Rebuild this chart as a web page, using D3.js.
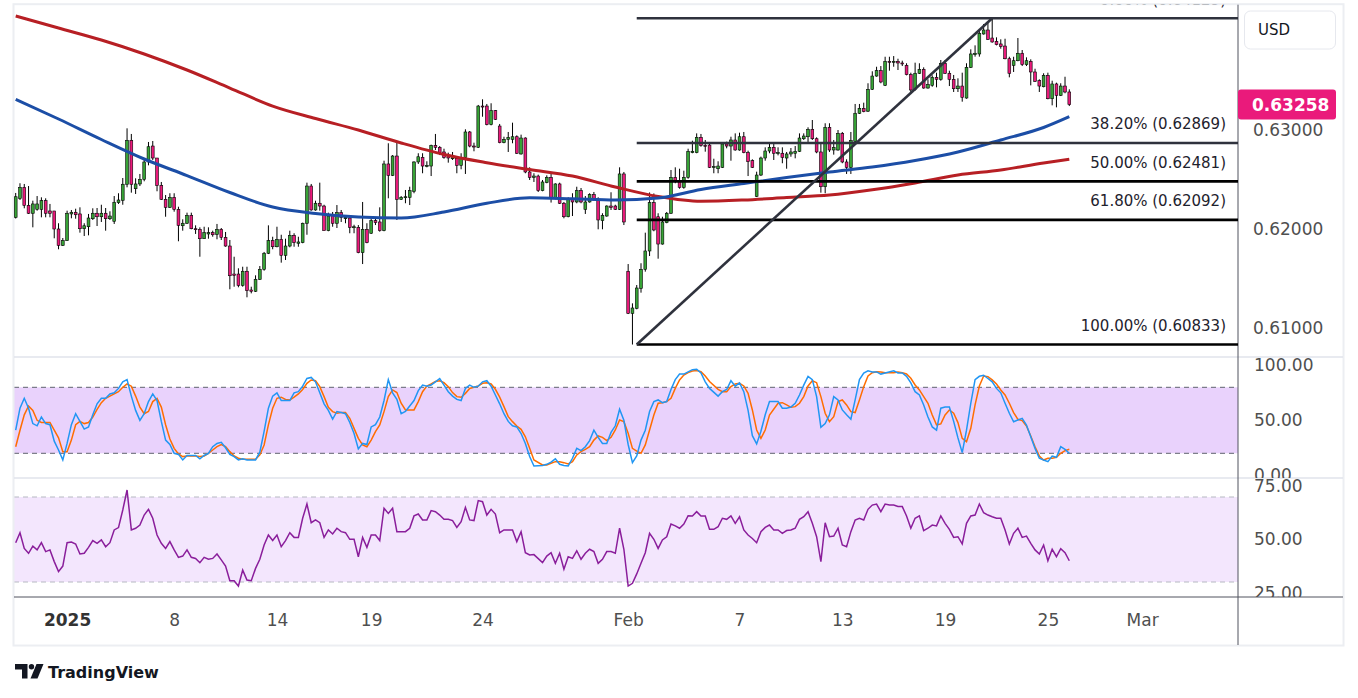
<!DOCTYPE html>
<html>
<head>
<meta charset="utf-8">
<script src="https://cdn.jsdelivr.net/npm/d3@7/dist/d3.min.js"></script>
<style>
  body { margin: 0; background: #fff; }
  svg { display: block; font-family: "DejaVu Sans", sans-serif; }
</style>
</head>
<body>
<svg id="chart" width="1358" height="698"></svg>
<script>
// 4H candles, 1 Jan - 25 Feb 2025
const opens = [
  0.62118,0.62310,0.62421,0.62239,0.62159,0.62199,0.62199,0.62286,0.62182,0.62182,
  0.62000,0.61835,0.61882,0.62152,0.62169,0.62152,0.62003,0.62023,0.62104,0.62159,
  0.62124,0.62159,0.62104,0.62078,0.62266,0.62290,0.62452,0.62896,0.62407,0.62455,
  0.62502,0.62677,0.62838,0.62717,0.62441,0.62300,0.62219,0.62320,0.62199,0.62033,
  0.62058,0.62138,0.62003,0.61997,0.61902,0.61950,0.61963,0.61946,0.61997,0.61916,
  0.61828,0.61545,0.61545,0.61431,0.61573,0.61384,0.61371,0.61492,0.61593,0.61755,
  0.61882,0.61821,0.61896,0.61734,0.61828,0.61936,0.61856,0.61862,0.62058,0.62434,
  0.62192,0.62260,0.62232,0.61983,0.62138,0.62058,0.62165,0.62104,0.62111,0.62017,
  0.62017,0.61761,0.61997,0.61957,0.62084,0.62071,0.61983,0.62657,0.62542,0.62737,
  0.62300,0.62320,0.62320,0.62381,0.62677,0.62724,0.62636,0.62636,0.62845,0.62825,
  0.62778,0.62730,0.62710,0.62714,0.62643,0.62724,0.62980,0.62838,0.62825,0.63242,
  0.63242,0.63054,0.63195,0.63040,0.62872,0.62906,0.62906,0.62932,0.62758,0.62919,
  0.62576,0.62522,0.62535,0.62387,0.62468,0.62522,0.62306,0.62455,0.62260,0.62124,
  0.62306,0.62273,0.62387,0.62199,0.62273,0.62347,0.62300,0.62084,0.62131,0.62232,
  0.62232,0.62199,0.62556,0.61573,0.61148,0.61199,0.61401,0.61593,0.61778,0.62266,
  0.62124,0.61848,0.62064,0.62159,0.62522,0.62482,0.62421,0.62522,0.62771,0.62771,
  0.62926,0.62845,0.62848,0.62623,0.62609,0.62623,0.62859,0.62838,0.62899,0.62798,
  0.62932,0.62771,0.62690,0.62330,0.62545,0.62717,0.62788,0.62825,0.62765,0.62765,
  0.62717,0.62758,0.62765,0.62785,0.62912,0.62932,0.63007,0.62912,0.62778,0.62427,
  0.63027,0.62798,0.62798,0.62966,0.62677,0.62623,0.62886,0.63169,0.63219,0.63190,
  0.63411,0.63545,0.63599,0.63451,0.63694,0.63687,0.63694,0.63677,0.63653,0.63559,
  0.63411,0.63573,0.63613,0.63424,0.63451,0.63532,0.63512,0.63674,0.63573,0.63512,
  0.63417,0.63444,0.63323,0.63633,0.63761,0.63768,0.63970,0.64010,0.63929,0.63896,
  0.63869,0.63848,0.63720,0.63653,0.63700,0.63775,0.63660,0.63694,0.63586,0.63498,
  0.63437,0.63552,0.63316,0.63465,0.63350,0.63444,0.63384
]
const highs = [
  0.62364,0.62462,0.62455,0.62434,0.62286,0.62333,0.62320,0.62310,0.62253,0.62182,
  0.62058,0.61909,0.62185,0.62192,0.62205,0.62219,0.62058,0.62152,0.62209,0.62212,
  0.62245,0.62212,0.62179,0.62333,0.62361,0.62515,0.63017,0.62960,0.62512,0.62556,
  0.62707,0.62879,0.62889,0.62717,0.62475,0.62343,0.62361,0.62361,0.62225,0.62098,
  0.62165,0.62165,0.62037,0.62017,0.62023,0.62017,0.61983,0.62051,0.62010,0.61970,
  0.61889,0.61720,0.61603,0.61619,0.61619,0.61417,0.61532,0.61626,0.61768,0.62037,
  0.61922,0.62023,0.61942,0.61902,0.61983,0.61957,0.61922,0.62064,0.62468,0.62455,
  0.62286,0.62468,0.62245,0.62165,0.62172,0.62242,0.62192,0.62138,0.62124,0.62043,
  0.62040,0.62273,0.62058,0.62104,0.62114,0.62219,0.62690,0.62866,0.62747,0.62882,
  0.62333,0.62394,0.62427,0.62684,0.62765,0.62765,0.62684,0.62852,0.62960,0.62838,
  0.62811,0.62771,0.62778,0.62737,0.62765,0.63007,0.62990,0.62872,0.63253,0.63310,
  0.63263,0.63270,0.63202,0.63061,0.62932,0.62980,0.63074,0.62946,0.62953,0.62926,
  0.62623,0.62563,0.62549,0.62495,0.62542,0.62563,0.62462,0.62468,0.62273,0.62320,
  0.62361,0.62427,0.62414,0.62333,0.62361,0.62374,0.62320,0.62159,0.62239,0.62371,
  0.62245,0.62623,0.62576,0.61646,0.61249,0.61434,0.61654,0.61963,0.62369,0.62359,
  0.62159,0.62124,0.62172,0.62596,0.62623,0.62609,0.62589,0.62811,0.62892,0.62966,
  0.62960,0.62899,0.62859,0.62710,0.62684,0.62872,0.62882,0.62932,0.62966,0.62973,
  0.62980,0.62791,0.62704,0.62579,0.62731,0.62825,0.62859,0.62866,0.62825,0.62825,
  0.62778,0.62818,0.62838,0.62966,0.62966,0.63027,0.63101,0.62926,0.62866,0.63068,
  0.63068,0.62899,0.63000,0.62980,0.62704,0.62980,0.63263,0.63263,0.63276,0.63472,
  0.63593,0.63639,0.63646,0.63740,0.63740,0.63747,0.63720,0.63700,0.63674,0.63579,
  0.63680,0.63674,0.63633,0.63512,0.63552,0.63579,0.63707,0.63707,0.63599,0.63556,
  0.63522,0.63579,0.63674,0.63815,0.63855,0.64003,0.64071,0.64091,0.64129,0.63936,
  0.63916,0.63922,0.63740,0.63740,0.63929,0.63808,0.63734,0.63714,0.63619,0.63512,
  0.63573,0.63579,0.63498,0.63478,0.63472,0.63538,0.63411
]
const lows = [
  0.62106,0.62293,0.62209,0.62152,0.62017,0.62185,0.62118,0.62118,0.62118,0.61906,
  0.61795,0.61828,0.61882,0.62108,0.62104,0.61963,0.61929,0.61936,0.62091,0.62030,
  0.62071,0.61983,0.62091,0.62051,0.62253,0.62245,0.62421,0.62367,0.62354,0.62434,
  0.62482,0.62643,0.62697,0.62381,0.62293,0.62124,0.62212,0.62175,0.61876,0.61983,
  0.62051,0.61997,0.61950,0.61720,0.61902,0.61902,0.61922,0.61896,0.61889,0.61821,
  0.61391,0.61417,0.61411,0.61417,0.61310,0.61350,0.61364,0.61485,0.61579,0.61747,
  0.61795,0.61815,0.61660,0.61687,0.61815,0.61821,0.61821,0.61856,0.61942,0.62185,
  0.62185,0.62185,0.62051,0.61977,0.62023,0.62010,0.62071,0.62058,0.61957,0.61957,
  0.61755,0.61646,0.61856,0.61950,0.62040,0.61973,0.61977,0.62310,0.62535,0.62091,
  0.62293,0.62260,0.62242,0.62361,0.62657,0.62563,0.62623,0.62535,0.62798,0.62747,
  0.62710,0.62670,0.62697,0.62563,0.62603,0.62556,0.62825,0.62785,0.62818,0.63134,
  0.63047,0.63047,0.63101,0.62866,0.62866,0.62778,0.62866,0.62758,0.62751,0.62563,
  0.62495,0.62475,0.62374,0.62381,0.62462,0.62267,0.62300,0.62253,0.62108,0.62118,
  0.62131,0.62260,0.62260,0.62152,0.62266,0.62286,0.61997,0.61997,0.62124,0.62192,
  0.62192,0.62192,0.62040,0.61141,0.60833,0.61189,0.61357,0.61569,0.61727,0.61977,
  0.61700,0.61842,0.62058,0.62152,0.62462,0.62407,0.62407,0.62508,0.62765,0.62765,
  0.62831,0.62781,0.62616,0.62563,0.62563,0.62616,0.62815,0.62690,0.62791,0.62791,
  0.62765,0.62535,0.62616,0.62323,0.62535,0.62690,0.62765,0.62697,0.62744,0.62664,
  0.62609,0.62730,0.62714,0.62778,0.62899,0.62879,0.62899,0.62765,0.62367,0.62361,
  0.62778,0.62751,0.62791,0.62664,0.62556,0.62556,0.62879,0.63162,0.63179,0.63182,
  0.63404,0.63538,0.63472,0.63444,0.63599,0.63639,0.63606,0.63646,0.63552,0.63371,
  0.63397,0.63566,0.63417,0.63417,0.63437,0.63431,0.63498,0.63566,0.63444,0.63384,
  0.63384,0.63286,0.63316,0.63626,0.63741,0.63741,0.63963,0.63909,0.63882,0.63855,
  0.63821,0.63714,0.63532,0.63586,0.63694,0.63646,0.63646,0.63451,0.63485,0.63384,
  0.63431,0.63310,0.63249,0.63229,0.63343,0.63371,0.63242
]
const closes = [
  0.62326,0.62421,0.62239,0.62159,0.62253,0.62253,0.62286,0.62159,0.62159,0.62000,
  0.61835,0.61882,0.62159,0.62169,0.62144,0.62003,0.62033,0.62111,0.62159,0.62124,
  0.62159,0.62104,0.62131,0.62270,0.62293,0.62452,0.62896,0.62452,0.62455,0.62502,
  0.62677,0.62831,0.62717,0.62441,0.62300,0.62219,0.62320,0.62199,0.62037,0.62058,
  0.62138,0.62003,0.61997,0.61902,0.61963,0.61963,0.61942,0.61997,0.61916,0.61828,
  0.61528,0.61532,0.61431,0.61573,0.61377,0.61371,0.61492,0.61593,0.61755,0.61882,
  0.61821,0.61896,0.61734,0.61828,0.61936,0.61862,0.61869,0.62058,0.62434,0.62192,
  0.62260,0.62232,0.61983,0.62131,0.62058,0.62165,0.62118,0.62118,0.62017,0.62023,
  0.61761,0.61997,0.61862,0.62084,0.62064,0.61983,0.62657,0.62542,0.62737,0.62300,
  0.62320,0.62326,0.62387,0.62677,0.62730,0.62636,0.62643,0.62845,0.62825,0.62771,
  0.62724,0.62717,0.62737,0.62643,0.62724,0.62980,0.62838,0.62831,0.63242,0.63235,
  0.63054,0.63195,0.63108,0.62872,0.62906,0.62926,0.62932,0.62765,0.62919,0.62576,
  0.62522,0.62535,0.62387,0.62475,0.62522,0.62306,0.62455,0.62260,0.62124,0.62306,
  0.62273,0.62387,0.62273,0.62273,0.62347,0.62300,0.62091,0.62138,0.62232,0.62219,
  0.62199,0.62556,0.62071,0.61148,0.61202,0.61404,0.61593,0.61778,0.62266,0.61990,
  0.61848,0.62071,0.62159,0.62522,0.62482,0.62421,0.62522,0.62785,0.62785,0.62926,
  0.62845,0.62838,0.62623,0.62630,0.62636,0.62859,0.62838,0.62899,0.62798,0.62932,
  0.62771,0.62680,0.62623,0.62545,0.62717,0.62788,0.62825,0.62765,0.62771,0.62724,
  0.62758,0.62778,0.62785,0.62919,0.62939,0.63007,0.62912,0.62778,0.62427,0.63027,
  0.62798,0.62825,0.62966,0.62677,0.62623,0.62892,0.63169,0.63219,0.63185,0.63411,
  0.63545,0.63599,0.63485,0.63694,0.63687,0.63694,0.63677,0.63670,0.63559,0.63404,
  0.63573,0.63613,0.63424,0.63458,0.63532,0.63512,0.63674,0.63573,0.63512,0.63417,
  0.63444,0.63330,0.63633,0.63768,0.63775,0.63977,0.64010,0.63916,0.63889,0.63862,
  0.63842,0.63720,0.63573,0.63700,0.63775,0.63660,0.63700,0.63586,0.63492,0.63444,
  0.63552,0.63316,0.63465,0.63350,0.63444,0.63384,0.63258
]

// moving averages, read every 10 bars
const maIdx = [0,10,20,30,40,50,60,70,80,90,100,110,120,130,140,150,160,170,180,190,200,210,220,230,240,246]
const maRed = [0.64151,0.64030,0.63909,0.63768,0.63606,0.63424,0.63242,0.63116,0.63000,0.62869,0.62753,0.62670,0.62601,
  0.62535,0.62424,0.62328,0.62280,0.62293,0.62318,0.62343,0.62396,0.62465,0.62545,0.62596,0.62667,0.62704]
const maBlue = [0.63310,0.63111,0.62904,0.62707,0.62540,0.62369,0.62222,0.62157,0.62121,0.62111,0.62172,0.62260,0.62315,
  0.62305,0.62293,0.62313,0.62399,0.62460,0.62520,0.62576,0.62626,0.62692,0.62778,0.62899,0.63025,0.63134]

// fibonacci retracement
const fibLabels = ["0.00%", "38.20%", "50.00%", "61.80%", "100.00%"]
const fibPrices = [0.64129, 0.62869, 0.62481, 0.62092, 0.60833]
const fibAnchors = [145, 228]

// stochastic %K / %D and RSI as [bar, value]
const stochK = [[0,41],[1,61],[2,70],[3,61],[4,47],[5,45],[6,53],[7,47],[8,46],[9,31],[10,23],[11,14],[12,29],[13,46],[14,56],
  [15,49],[16,42],[17,44],[18,55],[19,65],[20,70],[21,70],[22,74],[23,75],[24,79],[25,85],[26,87],[27,72],[28,59],[29,50],
  [30,56],[31,67],[32,74],[33,68],[34,49],[35,32],[36,28],[37,20],[38,19],[39,14],[40,18],[41,18],[42,18],[43,15],[44,18],
  [45,20],[46,26],[47,29],[48,30],[49,25],[50,19],[51,17],[52,14],[53,15],[54,14],[56,14],[57,21],[58,40],[59,61],[60,72],
  [61,75],[62,68],[63,68],[64,68],[65,75],[66,76],[67,81],[68,88],[69,89],[70,85],[71,75],[72,65],[73,59],[74,51],[75,58],
  [76,57],[77,56],[78,48],[79,38],[80,24],[81,29],[82,28],[83,44],[84,46],[85,53],[86,68],[87,87],[88,75],[89,69],[90,56],
  [91,58],[93,68],[94,77],[95,82],[96,81],[97,82],[98,85],[99,88],[100,82],[101,76],[102,72],[103,69],[104,68],[105,79],
  [106,82],[107,80],[108,81],[109,85],[110,86],[111,81],[112,73],[113,65],[114,56],[115,49],[116,45],[117,44],[118,38],
  [119,29],[120,17],[121,8.5],[123,9],[124,10],[125,12],[126,15],[127,10],[128,9],[129,8.5],[130,15.5],[131,24.5],[132,22.4],
  [133,26],[134,31.5],[135,41],[136,34.5],[137,29],[138,29],[139,39],[140,45],[141,60],[142,50],[143,28],[144,11.5],[145,17.6],
  [146,32],[147,41],[148,58],[149,67],[150,68.5],[151,66],[152,67],[153,78],[154,87],[155,92],[156,92],[157,94],[158,96],
  [159,96.4],[160,93],[161,85],[162,79],[164,72],[165,76],[166,78],[167,86],[168,81],[169,84],[170,76],[171,59],[172,36],
  [173,28.5],[174,40],[175,55],[176,67],[178,67],[179,61],[180,61],[181,62],[182,65.5],[183,73],[184,82],[185,90],[186,87],
  [187,71.5],[188,43.6],[189,47],[190,55],[191,71.5],[192,68.5],[193,59.4],[194,55],[195,51],[196,68.5],[197,87],[198,93],
  [199,95],[200,94],[201,94],[202,92],[203,93],[205,95],[206,93],[207,93],[208,90],[209,84],[210,76],[211,73],[212,64],
  [213,53],[214,44],[215,41],[216,61],[217,62],[218,62],[219,49],[220,34],[221,20.6],[222,41],[223,65.5],[224,87],[225,90],
  [226,91],[227,88],[228,85],[229,79],[230,75],[231,65.5],[232,56.4],[233,48.7],[234,50.3],[235,51.8],[236,45.7],[237,35.1],
  [238,24.5],[239,15.5],[240,13.9],[241,12.4],[242,17.5],[243,16.4],[244,26],[245,23.6],[246,20]]
const stochD = [[0,26],[1,41],[2,55],[3,63],[4,59],[5,50],[6,48],[8,48],[9,41],[10,34],[11,21.5],[12,21.5],[13,32],[14,46],
  [15,49],[16,47],[17,48],[18,53],[19,60],[20,66],[21,70],[22,72],[23,74],[24,76],[25,80],[26,83],[27,81],[28,72],[29,62],
  [30,56],[31,58],[32,67],[33,70],[34,62],[35,46],[36,33],[37,24.5],[38,19.4],[39,17],[40,17.6],[41,17.6],[42,17.6],[43,17],
  [44,17.6],[45,20],[46,23],[47,26],[48,28],[49,26],[50,21.5],[51,17.6],[52,15.5],[53,14.5],[54,14.5],[56,14.5],[57,18.5],
  [58,27.6],[59,45.8],[60,61],[61,70],[62,71],[63,69],[64,68.5],[65,71],[66,74],[67,78],[68,83.6],[69,86.7],[70,86],[71,80.6],
  [72,71.5],[73,61.8],[74,57.9],[75,56.4],[76,57],[77,57],[78,51.8],[79,42.7],[80,33.6],[81,27.6],[82,26],[83,32],[84,39.7],
  [85,45.8],[86,57.9],[87,71.5],[88,77.6],[89,75.2],[90,65.5],[91,59.4],[93,59.4],[94,67],[95,76],[96,81.2],[97,83],[98,85.2],
  [99,86],[100,84.2],[101,80.6],[102,75.2],[103,71.5],[104,71],[105,74.5],[106,79],[107,80],[108,81.2],[109,83.6],[110,84.2],
  [111,83],[112,78.2],[113,71],[114,62.4],[115,53.3],[116,48.8],[117,44.8],[118,41.8],[119,35],[120,24.5],[121,14],[123,9.4],
  [124,9.4],[125,10.9],[126,12.4],[127,12.4],[128,11.5],[129,10.3],[130,12.4],[131,18.5],[132,21.5],[133,23.6],[134,26],
  [135,32],[136,35.8],[137,34.5],[138,31.5],[139,34.5],[140,41.2],[141,50.3],[142,48.8],[143,38.2],[144,24.5],[145,22],
  [146,20],[147,27.6],[148,41.2],[149,54.8],[150,65.5],[151,66],[152,67],[153,70],[154,79],[155,86.7],[156,91.2],[157,93.3],
  [158,94.8],[159,95.2],[160,94.2],[161,90.3],[162,85.2],[164,78.2],[165,76],[166,76],[167,80.6],[168,83],[169,83.6],
  [170,81.2],[171,74.5],[172,59.4],[173,41.2],[174,33.6],[175,41.2],[176,54.8],[178,65.5],[179,66],[180,64],[181,61.8],
  [182,62.4],[183,65.5],[184,71.5],[185,81.2],[186,86],[187,84.2],[188,71.5],[189,56.4],[190,48.8],[191,53.3],[192,67],
  [193,68.5],[194,64],[195,57.9],[196,57],[197,68.5],[198,80.6],[199,90.3],[200,93.3],[201,94.2],[202,93.9],[203,93.3],
  [205,93.3],[206,93.9],[207,93.3],[208,92.1],[209,88.2],[210,82.1],[211,77.6],[212,71.5],[213,65.5],[214,54.8],[215,45.8],
  [216,46.7],[217,54.8],[218,59.4],[219,56.4],[220,47.9],[221,33.6],[222,30.6],[223,42.7],[224,64],[225,81.2],[226,90.3],
  [227,89.7],[228,86.7],[229,83],[230,77.6],[231,73],[232,65.5],[233,57],[234,50.9],[235,49.7],[236,44.8],[237,35.8],
  [238,26],[239,17.6],[240,13.9],[241,15.5],[242,15.5],[243,16.4],[244,20],[245,22.4],[246,23.6]]
const rsi = [[0,48.5],[1,53.2],[2,45.8],[3,43.5],[4,46.9],[5,45.1],[6,48.5],[7,44.3],[8,45.1],[9,39.6],[10,34.9],[11,37.5],
  [12,48.5],[13,48.8],[14,47.9],[15,43.2],[16,43.5],[17,46.3],[18,49.5],[19,48.2],[20,49.8],[21,46.6],[22,48.5],[23,54.5],
  [24,55.6],[25,63.9],[26,73.3],[27,54.5],[28,55.3],[29,56.8],[30,61.5],[31,64.2],[32,60],[33,52.1],[34,48.2],[35,45.8],
  [36,49],[37,45.1],[38,41.6],[39,42.2],[40,45.1],[41,41.6],[42,41.1],[43,39.1],[44,41.6],[45,40.7],[46,41.1],[47,43.2],
  [48,40.4],[49,37.5],[50,30.6],[51,30.6],[52,28.1],[53,35.6],[54,30.9],[55,30.6],[56,36.4],[57,40.7],[58,47.4],[59,52.1],
  [60,49.5],[61,52.1],[62,46.6],[63,49.5],[64,53.2],[65,51],[66,51],[67,60],[68,66.7],[69,57.9],[70,59.2],[71,57.9],[72,51],
  [73,54.5],[74,52.6],[75,55.3],[76,53.7],[77,53.2],[78,50.1],[79,50.1],[80,41.9],[81,51],[82,46.3],[83,52.1],[84,52.1],
  [85,49.5],[86,64.7],[87,62.3],[88,64.7],[89,53.7],[90,53.7],[91,53.7],[92,55.3],[93,61.1],[94,62],[95,59.2],[96,59.2],
  [97,63.6],[98,63.1],[99,61.5],[100,59.5],[101,59.5],[102,58.9],[103,55.7],[104,58.4],[105,65.1],[106,59.2],[107,58.9],
  [108,68.3],[109,67.8],[110,61.5],[111,64.2],[112,62],[113,53.2],[114,54.5],[115,54.5],[116,54.5],[117,49],[118,53.7],
  [119,43.8],[120,42.7],[121,42.9],[123,39.1],[124,42.2],[125,43.8],[126,38.8],[127,43.5],[128,36],[129,41.9],[130,41.1],
  [131,44.7],[132,40.7],[133,43.5],[134,45.4],[135,44.3],[136,38.8],[137,40.7],[138,44.3],[139,44.3],[140,43.5],[141,55.3],
  [142,45.4],[143,28.1],[144,29.4],[145,33.8],[146,38.8],[147,43.8],[148,52.9],[149,50.1],[150,45.8],[151,49.8],[152,51.3],
  [153,57.3],[154,56.4],[155,55.3],[156,57.3],[157,61.2],[158,61.1],[159,63.1],[160,61.1],[161,61.1],[162,54.8],[163,54.8],
  [164,56],[165,60],[166,59.5],[167,61.1],[168,57.6],[169,60.7],[170,54.5],[171,52.1],[172,50.5],[173,48.5],[174,53.7],
  [175,55.7],[176,56.8],[177,54.5],[178,54.5],[179,52.9],[180,54.2],[181,54.5],[182,55.3],[183,59.5],[184,60.7],[185,63.1],
  [186,57.6],[187,51.3],[188,39.6],[189,57.9],[190,51.3],[191,51.6],[192,55.3],[193,47.4],[194,46.6],[195,53.7],[196,59.2],
  [197,60],[198,59.2],[199,64.2],[200,66.2],[201,66.7],[202,63.1],[203,66.7],[204,66.2],[205,66.2],[206,65.5],[207,65.5],
  [208,61.1],[209,55.3],[210,60],[211,61.1],[212,54.2],[213,55.3],[214,56.8],[215,56.4],[216,61.1],[217,57.6],[218,54.8],
  [219,51],[220,51.3],[221,47.9],[222,57.6],[223,61.1],[224,61.5],[225,66.7],[226,62.6],[227,61.5],[228,60.7],[229,60],
  [230,60],[231,54.5],[232,47.9],[233,52.9],[234,55.3],[235,51],[236,51.6],[237,48.2],[238,45.1],[239,43.2],[240,47.4],
  [241,40],[242,45.4],[243,41.9],[244,45.7],[245,43.8],[246,40]]

const dateTickIdx = [12, 37, 61, 83, 109, 143, 169, 193, 217, 241, 263]
const dateTickLabels = ["2025", "8", "14", "19", "24", "Feb", "7", "13", "19", "25", "Mar"]
const priceTicks = [0.61, 0.62, 0.63]
const stochTicks = [0, 50, 100]
const rsiTicks = [25, 50, 75]
const lastPrice = 0.63258

// layout
const plotL = 14, axisX = 1238, frameR = 1343
const frameT = 4.7, sepA = 357, sepB = 478, sepC = 597, frameB = 645
const upCol = "#37a336", downCol = "#ea1a7b"

const svg = d3.select("#chart")

const x = d3.scaleLinear().domain([0, 246]).range([15.7, 1069.3])
const y = d3.scaleLinear().domain([0.61, 0.63]).range([328, 130])
const yStoch = d3.scaleLinear().domain([0, 100]).range([475.3, 365.3])
const yRsi = d3.scaleLinear().domain([30, 70]).range([582, 497])

const defs = svg.append("defs")
const clip = (id, x0, y0, x1, y1) => defs.append("clipPath").attr("id", id)
    .append("rect").attr("x", x0).attr("y", y0).attr("width", x1 - x0).attr("height", y1 - y0)
clip("cPrice", plotL, frameT, axisX, sepA)
clip("cStoch", plotL, sepA, axisX, sepB)
clip("cRsi", plotL, sepB, axisX, sepC)
clip("cStochAx", axisX, sepA, frameR, sepB)
clip("cRsiAx", axisX, sepB, frameR, sepC)

svg.append("rect").attr("width", 1358).attr("height", 698).attr("fill", "#fff")

// indicator bands
svg.append("rect")
    .attr("x", plotL).attr("width", axisX - plotL)
    .attr("y", yStoch(80)).attr("height", yStoch(20) - yStoch(80))
    .attr("fill", "#e9d2fc")
svg.append("rect")
    .attr("x", plotL).attr("width", axisX - plotL)
    .attr("y", yRsi(70)).attr("height", yRsi(30) - yRsi(70))
    .attr("fill", "#f3e6fd")

svg.selectAll("line.sband").data([80, 20]).join("line")
    .attr("class", "sband")
    .attr("x1", plotL).attr("x2", axisX)
    .attr("y1", d => yStoch(d)).attr("y2", d => yStoch(d))
    .attr("stroke", "#60636e").attr("stroke-dasharray", "5,4")
svg.selectAll("line.rband").data([70, 30]).join("line")
    .attr("class", "rband")
    .attr("x1", plotL).attr("x2", axisX)
    .attr("y1", d => yRsi(d)).attr("y2", d => yRsi(d))
    .attr("stroke", "#b6b9c2").attr("stroke-dasharray", "5,4")

// frame and separators
svg.append("rect")
    .attr("x", plotL - 0.5).attr("y", frameT - 0.5)
    .attr("width", frameR - plotL + 1).attr("height", frameB - frameT + 1)
    .attr("fill", "none").attr("stroke", "#eceef2").attr("stroke-width", 2)
svg.selectAll("line.sep").data([sepA, sepB]).join("line")
    .attr("class", "sep")
    .attr("x1", plotL).attr("x2", frameR)
    .attr("y1", d => d).attr("y2", d => d)
    .attr("stroke", "#e0e3eb").attr("stroke-width", 1.5)
svg.append("line")
    .attr("x1", plotL).attr("x2", frameR).attr("y1", sepC).attr("y2", sepC)
    .attr("stroke", "#50535e")
svg.append("line")
    .attr("x1", axisX).attr("x2", axisX).attr("y1", frameT).attr("y2", frameB)
    .attr("stroke", "#50535e")

// price pane
const price = svg.append("g").attr("clip-path", "url(#cPrice)")

const candles = opens.map((o, i) => ({i, o, h: highs[i], l: lows[i], c: closes[i]}))

price.selectAll("line.wick").data(candles).join("line")
    .attr("class", "wick")
    .attr("x1", d => x(d.i)).attr("x2", d => x(d.i))
    .attr("y1", d => y(d.h)).attr("y2", d => y(d.l))
    .attr("stroke", "#000").attr("stroke-width", 1)

price.selectAll("rect.body").data(candles).join("rect")
    .attr("class", "body")
    .attr("x", d => x(d.i) - 1.4).attr("width", 2.8)
    .attr("y", d => y(Math.max(d.o, d.c)))
    .attr("height", d => Math.max(1, Math.abs(y(d.o) - y(d.c))))
    .attr("fill", d => d.c >= d.o ? upCol : downCol)
    .attr("stroke", "#000").attr("stroke-width", 0.6)

const maLine = vals => d3.line()
    .x((d, k) => x(maIdx[k]))
    .y(d => y(d))
    .curve(d3.curveMonotoneX)(vals)

price.append("path").attr("d", maLine(maRed))
    .attr("fill", "none").attr("stroke", "#b71f24").attr("stroke-width", 3)
price.append("path").attr("d", maLine(maBlue))
    .attr("fill", "none").attr("stroke", "#1c4ea6").attr("stroke-width", 3)

// fib retracement
const fibX0 = x(fibAnchors[0])
price.selectAll("line.fib").data(fibPrices).join("line")
    .attr("class", "fib")
    .attr("x1", fibX0).attr("x2", axisX)
    .attr("y1", d => y(d)).attr("y2", d => y(d))
    .attr("stroke", (d, i) => i < 2 ? "#2f323d" : "#000")
    .attr("stroke-width", 2.6)

// the 0% label sits above the pane top, only its brackets peek out
price.selectAll("text.fib").data(fibPrices).join("text")
    .attr("class", "fib")
    .attr("x", axisX - 12)
    .attr("y", d => y(d) - 13.5)
    .attr("text-anchor", "end")
    .attr("font-size", 15)
    .attr("fill", "#1e222d")
    .text((d, i) => `${fibLabels[i]} (${d.toFixed(5)})`)

price.append("line")
    .attr("x1", x(fibAnchors[0])).attr("y1", y(fibPrices[4]))
    .attr("x2", x(fibAnchors[1])).attr("y2", y(fibPrices[0]))
    .attr("stroke", "#2f323d").attr("stroke-width", 2.6)

// stochastic
const stoch = svg.append("g").attr("clip-path", "url(#cStoch)")
const sLine = d3.line().x(d => x(d[0])).y(d => yStoch(d[1]))
stoch.append("path").attr("d", sLine(stochD))
    .attr("fill", "none").attr("stroke", "#ff6d00").attr("stroke-width", 1.5)
stoch.append("path").attr("d", sLine(stochK))
    .attr("fill", "none").attr("stroke", "#2196f3").attr("stroke-width", 1.5)

// rsi
const rsiG = svg.append("g").attr("clip-path", "url(#cRsi)")
rsiG.append("path")
    .attr("d", d3.line().x(d => x(d[0])).y(d => yRsi(d[1]))(rsi))
    .attr("fill", "none").attr("stroke", "#8a1e9b").attr("stroke-width", 1.5)

// axes
const styleAxis = (g, size) => {
    g.select(".domain").remove()
    g.selectAll("text").attr("font-size", size).attr("fill", "#4f4f4f")
        .attr("font-family", "DejaVu Sans, sans-serif")
}

svg.append("g")
    .attr("transform", `translate(${axisX},0)`)
    .call(d3.axisRight(y).tickValues(priceTicks).tickFormat(d3.format(".5f")).tickSize(0).tickPadding(15))
    .call(g => styleAxis(g, 17))

svg.append("g")
    .attr("clip-path", "url(#cStochAx)")
    .append("g")
    .attr("transform", `translate(${axisX},0)`)
    .call(d3.axisRight(yStoch).tickValues(stochTicks).tickFormat(d3.format(".2f")).tickSize(0).tickPadding(16))
    .call(g => styleAxis(g, 17))

svg.append("g")
    .attr("clip-path", "url(#cRsiAx)")
    .append("g")
    .attr("transform", `translate(${axisX},0)`)
    .call(d3.axisRight(yRsi).tickValues(rsiTicks).tickFormat(d3.format(".2f")).tickSize(0).tickPadding(16))
    .call(g => styleAxis(g, 17))

svg.append("g")
    .attr("transform", `translate(0,${sepC})`)
    .call(d3.axisBottom(x).tickValues(dateTickIdx).tickFormat((d, i) => dateTickLabels[i]).tickSize(0).tickPadding(17))
    .call(g => styleAxis(g, 17))
    .call(g => g.selectAll("text").filter(d => d === dateTickIdx[0]).attr("font-weight", "bold").attr("fill", "#333"))

// last price tag
const tagY = y(lastPrice)
svg.append("rect")
    .attr("x", axisX).attr("y", tagY - 15)
    .attr("width", 98).attr("height", 30).attr("rx", 3)
    .attr("fill", downCol)
svg.append("text")
    .attr("x", axisX + 14).attr("y", tagY).attr("dy", "0.36em")
    .attr("font-size", 17).attr("font-weight", "bold").attr("fill", "#fff")
    .text(d3.format(".5f")(lastPrice))

// currency button
svg.append("rect")
    .attr("x", 1244.5).attr("y", 11).attr("width", 91).attr("height", 38).attr("rx", 6)
    .attr("fill", "#fff").attr("stroke", "#e6e8ee")
svg.append("text")
    .attr("x", 1258).attr("y", 30).attr("dy", "0.36em")
    .attr("font-size", 15).attr("fill", "#131722")
    .text("USD")

// TradingView logo
const logo = svg.append("g").attr("fill", "#131722")
logo.append("path").attr("d", "M15,664 H27.5 V678.5 H22 V669.5 H15 Z")
logo.append("circle").attr("cx", 31.5).attr("cy", 666.8).attr("r", 2.7)
logo.append("path").attr("d", "M36.5,664 H43.5 L37.5,678.5 H30.5 Z")
logo.append("text")
    .attr("x", 48).attr("y", 678)
    .attr("font-size", 16).attr("font-weight", "bold")
    .text("TradingView")
</script>
</body>
</html>
